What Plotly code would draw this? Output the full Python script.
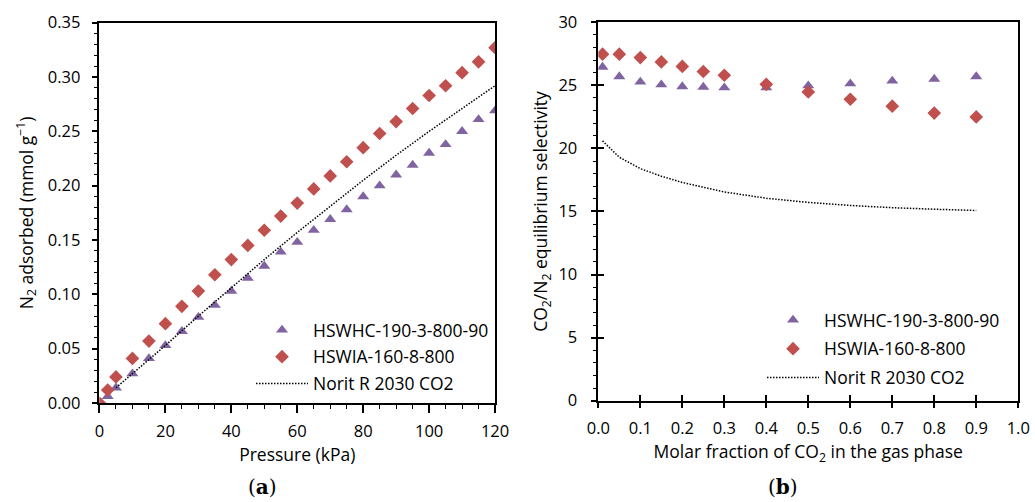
import plotly.graph_objects as go

# ---------------- data: panel (a) ----------------
pressure = [0, 2.5, 5, 10, 15, 20, 25, 30, 35, 40, 45, 50, 55, 60, 65, 70,
            75, 80, 85, 90, 95, 100, 105, 110, 115, 120]
hswhc_n2 = [0.000, 0.006, 0.014, 0.027, 0.041, 0.053, 0.066, 0.079, 0.090, 0.103,
            0.115, 0.126, 0.139, 0.148, 0.159, 0.169, 0.178, 0.190, 0.200, 0.210,
            0.219, 0.230, 0.238, 0.250, 0.261, 0.269]
hswia_n2 = [0.000, 0.012, 0.024, 0.041, 0.057, 0.073, 0.089, 0.103, 0.118, 0.132,
            0.145, 0.159, 0.172, 0.184, 0.197, 0.209, 0.222, 0.235, 0.248, 0.259,
            0.271, 0.283, 0.292, 0.304, 0.314, 0.327]
norit_p = [5, 10, 20, 30, 40, 50, 60, 70, 80, 90, 100, 110, 120]
norit_n2 = [0.014, 0.027, 0.053, 0.080, 0.106, 0.132, 0.157, 0.181, 0.205,
            0.228, 0.250, 0.271, 0.292]

# ---------------- data: panel (b) ----------------
yco2 = [0.01, 0.05, 0.1, 0.15, 0.2, 0.25, 0.3, 0.4, 0.5, 0.6, 0.7, 0.8, 0.9]
hswhc_sel = [26.45, 25.7, 25.27, 25.05, 24.9, 24.87, 24.82, 24.82, 24.97, 25.13,
             25.35, 25.5, 25.7]
hswia_sel = [27.47, 27.47, 27.2, 26.86, 26.5, 26.1, 25.8, 25.08, 24.47, 23.9,
             23.35, 22.8, 22.5]
norit_sel = [20.6, 19.3, 18.4, 17.8, 17.3, 16.9, 16.55, 16.05, 15.72, 15.48,
             15.3, 15.18, 15.08]

names = ["HSWHC-190-3-800-90", "HSWIA-160-8-800", "Norit R 2030 CO2"]
PURPLE = "#8064A2"
RED = "#C0504D"
FONT = "Open Sans"

fig = go.Figure()

def add_panel(x_s, y1, y2, x_line, y_line, xa, ya, legend):
    fig.add_trace(go.Scatter(x=x_s, y=y1, mode="markers", name=names[0],
                             marker=dict(symbol="triangle-up", size=10.5, color=PURPLE),
                             xaxis=xa, yaxis=ya, legend=legend, legendgroup=legend + "a"))
    fig.add_trace(go.Scatter(x=x_s, y=y2, mode="markers", name=names[1],
                             marker=dict(symbol="diamond", size=10.5, color=RED),
                             xaxis=xa, yaxis=ya, legend=legend, legendgroup=legend + "b"))
    fig.add_trace(go.Scatter(x=x_line, y=y_line, mode="lines", name=names[2],
                             line=dict(color="black", width=1.5, dash="1.5px,1.5px"),
                             xaxis=xa, yaxis=ya, legend=legend, legendgroup=legend + "c"))

add_panel(pressure, hswhc_n2, hswia_n2, norit_p, norit_n2, "x", "y", "legend")
add_panel(yco2, hswhc_sel, hswia_sel, yco2, norit_sel, "x2", "y2", "legend2")

# empty trace for overlay axes (inner half of crossing ticks, panel b)
fig.add_trace(go.Scatter(x=[], y=[], xaxis="x3", yaxis="y3", showlegend=False))

tickfont = dict(family=FONT, size=16.5, color="black")
titlefont = dict(family=FONT, size=17.5, color="black")
ydom_a = [0.1972, 0.9548]
ydom_b = [0.2018, 0.9556]
xdom_a = [0.0961, 0.4783]
xdom_b = [0.5781, 0.9838]

common = dict(showgrid=False, zeroline=False, showline=True, linecolor="black",
              linewidth=1.5, mirror=True, tickfont=tickfont, tickcolor="black",
              automargin=False)
overlay = dict(showticklabels=False, showgrid=False, zeroline=False, showline=False,
               automargin=False, ticks="inside", ticklen=6, tickwidth=1.5, tickcolor="black")

fig.update_layout(
    template="none",
    width=1035, height=502, margin=dict(l=0, r=0, t=0, b=0, autoexpand=False),
    paper_bgcolor="white", plot_bgcolor="white",
    font=dict(family=FONT, size=17, color="black"),
    xaxis=dict(domain=xdom_a, anchor="y", range=[0, 120], dtick=20,
               ticks="outside", ticklen=8, tickwidth=1.5, ticklabelstandoff=4,
               minor=dict(ticks="outside", dtick=5, ticklen=4, tickcolor="black", tickwidth=1),
               title=dict(text="Pressure (kPa)", font=titlefont, standoff=4), **common),
    yaxis=dict(domain=ydom_a, anchor="x", range=[0, 0.35], dtick=0.05, tickformat=".2f",
               ticks="outside", ticklen=6, tickwidth=1.5, ticklabelstandoff=8,
               minor=dict(ticks="outside", dtick=0.01, ticklen=4, tickcolor="black", tickwidth=1),
               title=dict(text="N<sub>2</sub> adsorbed (mmol g<sup>−1</sup>)", font=titlefont, standoff=10),
               **common),
    xaxis2=dict(domain=xdom_b, anchor="y2", range=[0, 1.0], dtick=0.1, tickformat=".1f",
                ticks="outside", ticklen=6, tickwidth=1.5, ticklabelstandoff=6,
                title=dict(text="Molar fraction of CO<sub>2</sub> in the gas phase", font=titlefont, standoff=4),
                **common),
    yaxis2=dict(domain=ydom_b, anchor="x2", range=[0, 30], dtick=5,
                ticks="outside", ticklen=6, tickwidth=1.5, ticklabelstandoff=10,
                minor=dict(ticks="outside", dtick=1, ticklen=4, tickcolor="black", tickwidth=1),
                title=dict(text="CO<sub>2</sub>/N<sub>2</sub> equilibrium selectivity", font=titlefont, standoff=6),
                **common),
    xaxis3=dict(domain=xdom_b, anchor="y3", overlaying="x2", range=[0, 1.0], dtick=0.1, **overlay),
    yaxis3=dict(domain=ydom_b, anchor="x3", overlaying="y2", range=[0, 30], dtick=5, **overlay),
    legend=dict(x=251 / 1035, y=1 - 312 / 502, xanchor="left", yanchor="top", bgcolor="rgba(0,0,0,0)",
                font=dict(family=FONT, size=17.5, color="black"), itemwidth=52, borderwidth=0,
                traceorder="grouped", tracegroupgap=1),
    legend2=dict(x=762 / 1035, y=1 - 302 / 502, xanchor="left", yanchor="top", bgcolor="rgba(0,0,0,0)",
                 font=dict(family=FONT, size=17.5, color="black"), itemwidth=52, borderwidth=0,
                 traceorder="grouped", tracegroupgap=3),
    showlegend=True,
    annotations=[
        dict(text="(<b>a</b>)", x=262 / 1035, y=1 - 487 / 502, xref="paper", yref="paper", showarrow=False,
             xanchor="center", yanchor="middle",
             font=dict(family="DejaVu Serif", size=20, color="black")),
        dict(text="(<b>b</b>)", x=783 / 1035, y=1 - 487 / 502, xref="paper", yref="paper", showarrow=False,
             xanchor="center", yanchor="middle",
             font=dict(family="DejaVu Serif", size=20, color="black")),
    ],
)

fig.write_html("out.html")
